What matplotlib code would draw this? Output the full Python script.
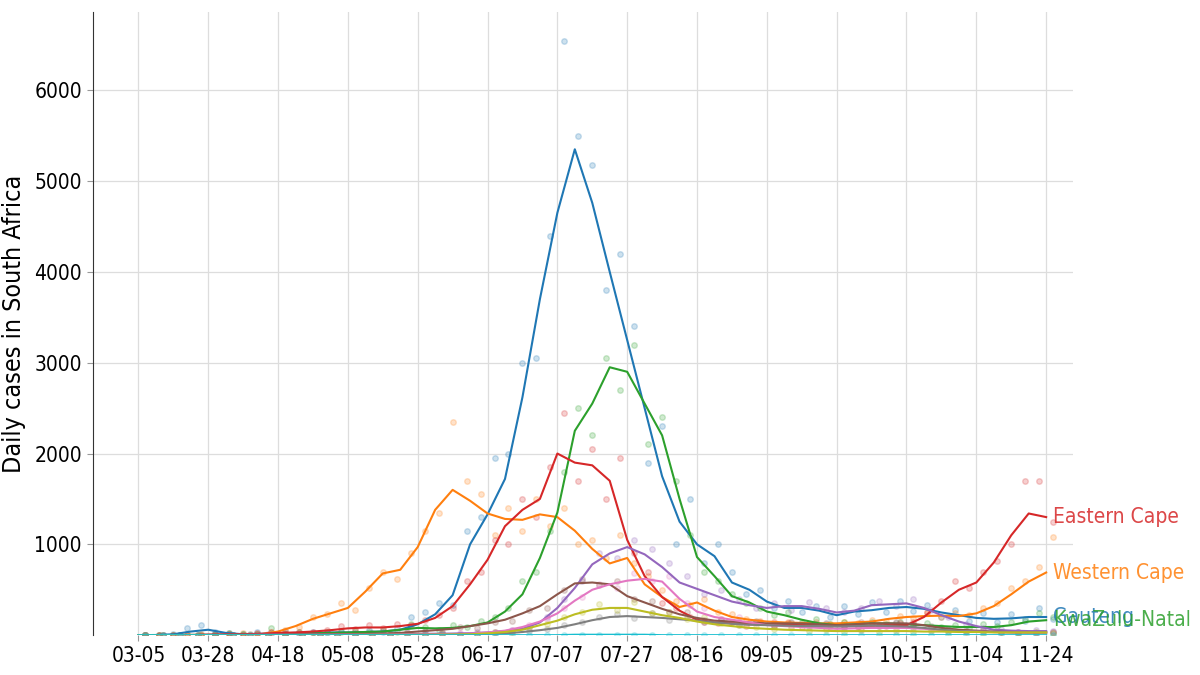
import numpy as np
import matplotlib
matplotlib.use("Agg")
import matplotlib.pyplot as plt

plt.rcParams["font.family"] = ["DejaVu Sans"]
plt.rcParams["font.stretch"] = "condensed"

# x axis: day index since first report, ticks every 20 indices
tick_labels = ["03-05", "03-28", "04-18", "05-08", "05-28", "06-17", "07-07",
               "07-27", "08-16", "09-05", "09-25", "10-15", "11-04", "11-24"]

provinces = ["Gauteng", "Western Cape", "KwaZulu-Natal", "Eastern Cape", "Free State",
             "North West", "Mpumalanga", "Limpopo", "Northern Cape", "Unknown"]
labelled = ["Gauteng", "Western Cape", "KwaZulu-Natal", "Eastern Cape"]

# smoothed daily cases, every 5th day (index 0..260)
gauteng = [0, 2, 10, 40, 60, 25, 10, 15, 20, 25,
           25, 30, 30, 35, 40, 60, 120, 230, 440, 1000,
           1330, 1720, 2620, 3700, 4650, 5350, 4760, 4000, 3250, 2500,
           1750, 1250, 1000, 870, 580, 500, 370, 300, 300, 270,
           220, 260, 275, 300, 310, 290, 250, 220, 190, 180,
           185, 200, 200]
western_cape = [0, 0, 2, 3, 3, 3, 5, 10, 40, 100,
                180, 240, 300, 480, 680, 720, 970, 1380, 1600, 1480,
                1340, 1280, 1270, 1330, 1300, 1150, 950, 790, 850, 560,
                420, 310, 360, 270, 200, 170, 150, 140, 135, 130,
                130, 140, 150, 180, 200, 210, 215, 210, 240, 320,
                450, 590, 690]
kzn = [0, 0, 0, 2, 3, 5, 5, 8, 10, 15,
       20, 25, 30, 35, 40, 60, 80, 75, 80, 100,
       140, 260, 450, 850, 1350, 2250, 2550, 2950, 2900, 2550,
       2200, 1500, 860, 650, 430, 360, 260, 220, 170, 130,
       110, 120, 130, 130, 120, 110, 100, 90, 90, 90,
       110, 150, 165]
eastern_cape = [0, 0, 0, 0, 5, 10, 10, 15, 25, 30,
                40, 55, 75, 85, 85, 100, 125, 190, 320, 560,
                830, 1200, 1380, 1500, 2000, 1900, 1870, 1700, 1050, 650,
                420, 270, 170, 140, 130, 120, 120, 115, 110, 110,
                100, 100, 105, 110, 110, 200, 360, 500, 580, 800,
                1100, 1340, 1300]
free_state = [0, 0, 0, 2, 3, 3, 3, 4, 5, 5,
              6, 6, 7, 8, 10, 12, 14, 16, 18, 22,
              30, 45, 70, 140, 300, 520, 780, 900, 970, 890,
              750, 580, 510, 440, 370, 330, 300, 320, 320, 290,
              250, 270, 330, 340, 350, 300, 220, 150, 100, 60,
              50, 45, 45]
north_west = [0, 0, 0, 2, 3, 3, 4, 5, 6, 7,
              8, 10, 12, 15, 18, 25, 40, 55, 70, 100,
              130, 170, 240, 320, 450, 570, 580, 560, 430, 360,
              290, 230, 190, 160, 150, 140, 130, 130, 130, 120,
              110, 120, 130, 130, 130, 110, 80, 60, 50, 40,
              35, 30, 30]
mpumalanga = [0, 0, 0, 1, 2, 2, 2, 3, 3, 3,
              4, 4, 5, 5, 6, 7, 8, 10, 12, 18,
              30, 50, 90, 150, 240, 380, 500, 560, 600, 620,
              590, 400, 260, 200, 170, 140, 110, 100, 90, 80,
              70, 75, 80, 80, 80, 70, 55, 45, 40, 35,
              30, 30, 30]
limpopo = [0, 0, 0, 0, 1, 1, 1, 1, 2, 2,
           2, 2, 3, 3, 3, 4, 4, 5, 6, 8,
           10, 20, 35, 55, 80, 120, 165, 200, 210, 200,
           190, 175, 160, 140, 125, 115, 110, 105, 100, 100,
           95, 100, 105, 100, 95, 80, 60, 45, 40, 35,
           30, 30, 30]
northern_cape = [0, 0, 0, 0, 0, 0, 1, 1, 1, 1,
                 2, 2, 2, 3, 3, 3, 4, 5, 7, 10,
                 20, 35, 60, 110, 160, 230, 280, 300, 300, 260,
                 220, 190, 150, 120, 100, 80, 70, 60, 55, 50,
                 45, 45, 45, 45, 45, 40, 40, 35, 35, 30,
                 30, 30, 30]
unknown = [0, 0, 0, 0, 0, 0, 0, 0, 0, 0,
           0, 0, 0, 0, 0, 0, 0, 0, 0, 0,
           0, 0, 0, 0, 0, 5, 5, 5, 5, 5,
           0, 0, 0, 0, 0, 0, 0, 0, 0, 0,
           0, 0, 0, 0, 0, 0, 0, 0, 0, 0,
           0, 0, 0]

# raw daily counts (dots), every 4th day from index 2 for the big provinces
gauteng_raw = [0, 5, 15, 80, 110, 40, 20, 10, 30, 10,
               50, 15, 40, 20, 50, 25, 60, 30, 80, 200,
               250, 350, 330, 1150, 1300, 1950, 2000, 3000, 3050, 4400,
               6540, 5500, 5180, 3800, 4200, 3400, 1900, 2300, 1000, 1500,
               800, 1000, 700, 450, 500, 300, 380, 260, 320, 200,
               320, 230, 360, 250, 380, 270, 330, 200, 280, 160,
               240, 150, 230, 160, 300, 180]
western_cape_raw = [0, 0, 5, 0, 10, 5, 10, 20, 15, 40,
                    60, 90, 200, 230, 350, 280, 520, 700, 620, 900,
                    1150, 1350, 2350, 1700, 1550, 1100, 1400, 1150, 1500, 1200,
                    1400, 1000, 1050, 850, 1100, 800, 650, 500, 380, 330,
                    400, 250, 230, 180, 160, 140, 150, 120, 140, 120,
                    150, 130, 170, 160, 210, 190, 240, 200, 240, 220,
                    300, 350, 520, 600, 750, 1080]
kzn_raw = [0, 0, 5, 10, 5, 10, 20, 10, 15, 80,
           10, 30, 20, 40, 30, 50, 30, 60, 40, 120,
           90, 60, 110, 90, 160, 200, 300, 600, 700, 1150,
           1800, 2500, 2200, 3050, 2700, 3200, 2100, 2400, 1700, 1100,
           700, 600, 450, 350, 300, 220, 250, 150, 180, 120,
           150, 100, 150, 120, 140, 110, 130, 90, 110, 80,
           120, 100, 140, 180, 240, 200]
eastern_cape_raw = [0, 0, 0, 5, 5, 15, 10, 5, 20, 30,
                    20, 40, 30, 60, 100, 70, 110, 80, 120, 110,
                    170, 220, 300, 600, 700, 1050, 1000, 1500, 1300, 1850,
                    2450, 1700, 2050, 1500, 1950, 900, 700, 350, 300, 200,
                    150, 130, 150, 100, 140, 100, 130, 90, 120, 100,
                    110, 90, 120, 100, 130, 150, 250, 380, 600, 520,
                    700, 820, 1000, 1700, 1700, 1250]
# every 5th day from index 2 for the smaller ones
free_state_raw = [0, 0, 0, 5, 0, 5, 0, 10, 0, 5,
                  10, 5, 10, 15, 5, 20, 10, 25, 15, 30,
                  40, 60, 90, 200, 400, 600, 900, 850, 1050, 950,
                  800, 650, 450, 500, 400, 300, 350, 280, 360, 300,
                  250, 300, 380, 320, 400, 280, 200, 120, 80, 70,
                  40, 60, 50]
north_west_raw = [0, 0, 5, 0, 5, 0, 10, 5, 10, 5,
                  15, 10, 15, 20, 15, 30, 50, 40, 90, 80,
                  150, 160, 280, 300, 500, 620, 550, 600, 400, 380,
                  260, 250, 170, 180, 140, 160, 120, 140, 110, 130,
                  100, 140, 110, 150, 120, 90, 70, 50, 60, 30,
                  40, 25, 35]
mpumalanga_raw = [0, 0, 0, 0, 5, 0, 5, 0, 5, 5,
                  0, 10, 5, 10, 5, 10, 15, 10, 20, 15,
                  40, 60, 110, 180, 300, 420, 560, 520, 680, 600,
                  650, 350, 300, 180, 200, 130, 150, 100, 120, 80,
                  90, 60, 100, 70, 100, 60, 70, 40, 50, 30,
                  40, 25, 35]
limpopo_raw = [0, 0, 0, 0, 0, 5, 0, 5, 0, 5,
               0, 5, 5, 0, 5, 10, 5, 10, 5, 15,
               20, 30, 50, 70, 110, 150, 200, 230, 190, 240,
               170, 200, 140, 170, 110, 140, 100, 130, 90, 120,
               80, 120, 100, 130, 80, 100, 50, 60, 30, 40,
               25, 40, 20]
northern_cape_raw = [0, 0, 0, 0, 0, 0, 0, 5, 0, 5,
                     0, 5, 0, 5, 5, 10, 5, 10, 5, 15,
                     30, 40, 80, 120, 200, 260, 340, 280, 360, 240,
                     250, 180, 200, 130, 110, 90, 70, 80, 50, 60,
                     40, 60, 40, 50, 35, 50, 30, 40, 25, 35,
                     20, 30, 25]
unknown_raw = [0, 0, 0, 0, 0, 0, 0, 0, 0, 0,
               0, 0, 0, 0, 0, 0, 0, 0, 0, 0,
               0, 0, 0, 0, 0, 0, 0, 0, 0, 0,
               0, 0, 0, 0, 0, 0, 0, 0, 0, 0,
               0, 0, 0, 0, 0, 0, 0, 0, 0, 0,
               0, 0, 0]

smooth = [gauteng, western_cape, kzn, eastern_cape, free_state,
          north_west, mpumalanga, limpopo, northern_cape, unknown]
raw = [gauteng_raw, western_cape_raw, kzn_raw, eastern_cape_raw, free_state_raw,
       north_west_raw, mpumalanga_raw, limpopo_raw, northern_cape_raw, unknown_raw]

colors = plt.get_cmap("tab10").colors

fig = plt.figure(figsize=(12, 6.75), dpi=100)
ax = fig.add_axes([0.0775, 0.059, 0.8167, 0.923])

x_line = np.arange(0, 261, 5)
for name, ys, dots, c in zip(provinces, smooth, raw, colors):
    step = 4 if len(dots) == 66 else 5
    x_dots = np.arange(2, 263, step)
    ax.scatter(x_dots, dots, s=16, color=c, alpha=0.22, edgecolors=c,
               linewidths=1, zorder=2)
    ax.plot(x_line, ys, color=c, lw=1.5, zorder=3)
    if name in labelled:
        ax.text(x_line[-1] + 2, ys[-1], name, color=c, alpha=0.85,
                fontsize=15, va="center", ha="left", zorder=4)

ax.set_xlim(-13, 267.7)
ax.set_ylim(0, 6860)
ax.set_xticks(np.arange(0, 261, 20))
ax.set_xticklabels(tick_labels)
ax.set_yticks([1000, 2000, 3000, 4000, 5000, 6000])
ax.tick_params(axis="x", labelsize=15, length=4, color="#999999", pad=4)
ax.tick_params(axis="y", labelsize=15, length=4, color="#999999", pad=4)
ax.grid(True, color="#dddddd", lw=0.9)
ax.set_axisbelow(True)
for s in ["top", "right", "bottom"]:
    ax.spines[s].set_visible(False)
ax.spines["left"].set_color("#333333")
ax.set_ylabel("Daily cases in South Africa", fontsize=18, labelpad=6)

fig.savefig("out.png", dpi=100)
